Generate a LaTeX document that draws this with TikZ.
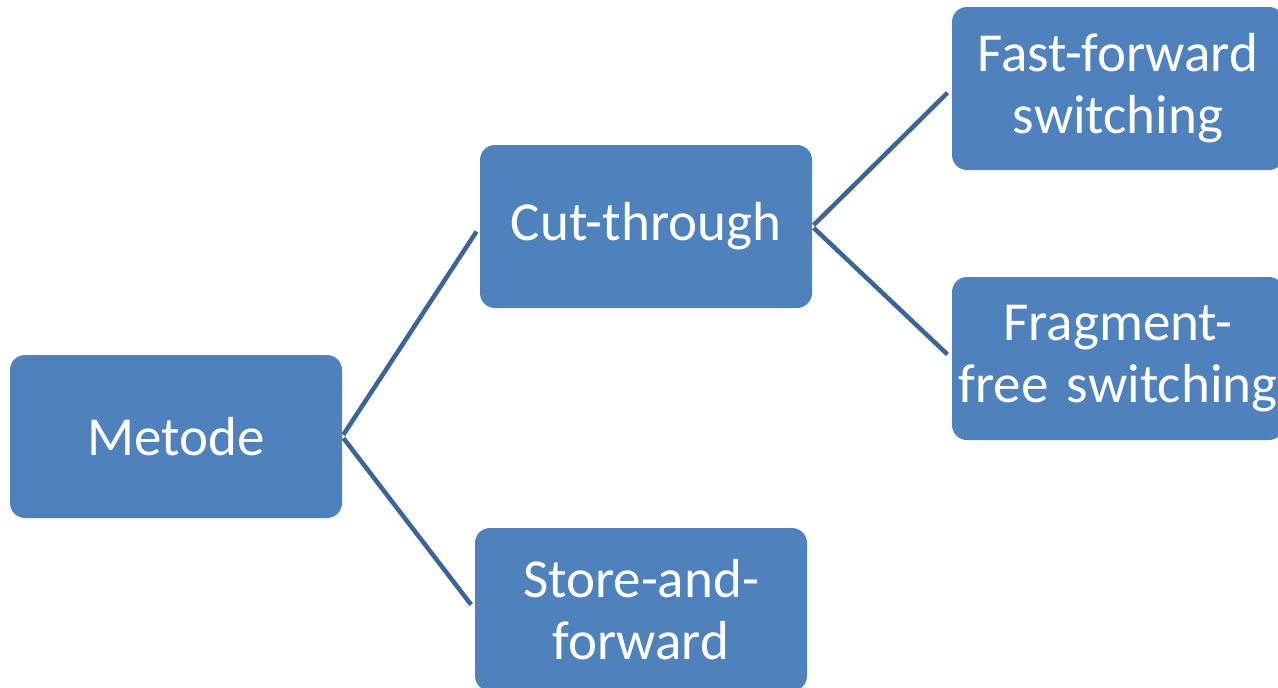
\documentclass[tikz,border=0pt]{standalone}
\usepackage{fontspec}
\setmainfont{Carlito}
\usepackage{tikz}
\definecolor{boxblue}{HTML}{4F81BD}
\definecolor{linkblue}{HTML}{3D6496}

\begin{document}
\begin{tikzpicture}[x=1pt,y=-1pt,
    box/.style={rectangle,rounded corners=15pt,fill=boxblue,text=white,
      minimum width=332pt,minimum height=163pt,inner sep=0pt,
      text width=330pt,align=center,font=\fontsize{55}{62}\selectfont},
    link/.style={draw=linkblue,line width=4.5pt,shorten <=2pt,shorten >=6pt}]
  \useasboundingbox (0,0) rectangle (1278,688);
  \clip (0,0) rectangle (1278,688);
  \node[box] (m) at (176,436.5) {Metode};
  \node[box] (ct) at (646,226.5) {Cut-through};
  \node[box] (sf) at (641,609.5) {Store-and-\\forward};
  \node[box] (ff) at (1118,88.5) {Fast-forward\\switching};
  \node[box] (fr) at (1118,358.5) {Fragment-\\free switching};
  \draw[link] (m.east)--(ct.west);
  \draw[link] (m.east)--(sf.west);
  \draw[link] (ct.east)--(ff.west);
  \draw[link] (ct.east)--(fr.west);
\end{tikzpicture}
\end{document}
